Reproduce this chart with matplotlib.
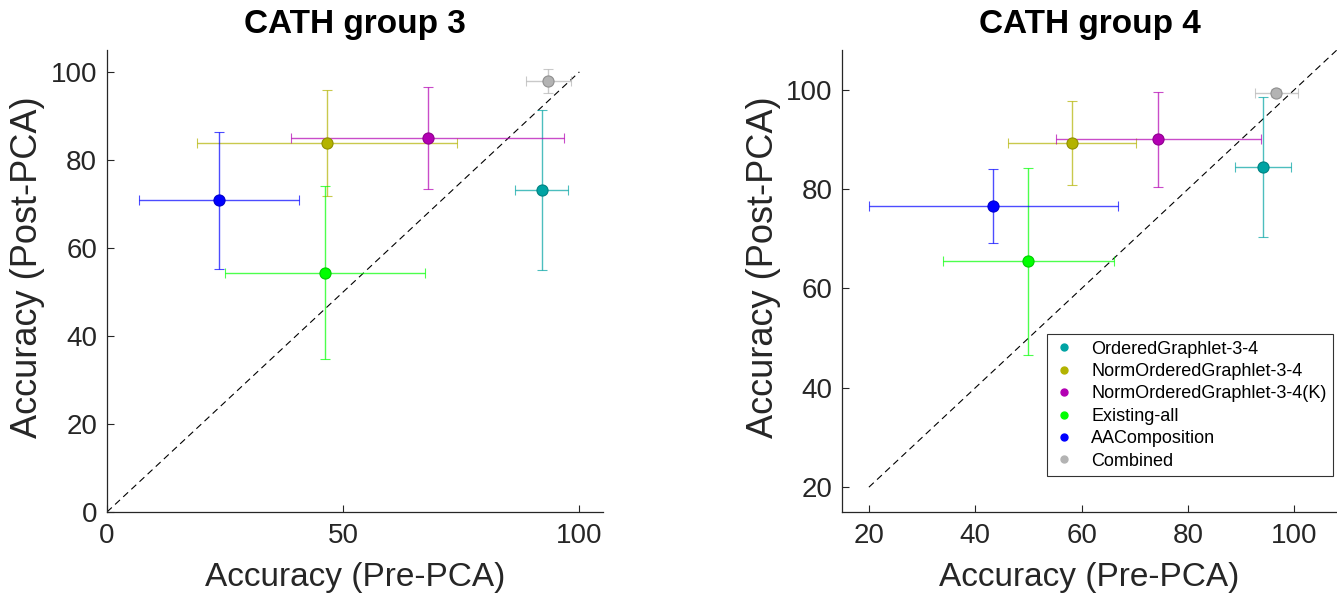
import matplotlib

matplotlib.use("Agg")
import matplotlib.pyplot as plt
from matplotlib.colors import to_rgba
from matplotlib.lines import Line2D

plt.rcParams["font.family"] = ["Liberation Sans", "DejaVu Sans"]

# --- data ------------------------------------------------------------------
methods = [
    "OrderedGraphlet-3-4",
    "NormOrderedGraphlet-3-4",
    "NormOrderedGraphlet-3-4(K)",
    "Existing-all",
    "AAComposition",
    "Combined",
]
colors = ["#00a3a3", "#b3b300", "#b300b3", "#00ff00", "#0000ff", "#b3b3b3"]

# CATH group 3
g3_pre = [92.0, 46.6, 67.9, 46.2, 23.7, 93.4]
g3_pre_err = [5.6, 27.6, 28.9, 21.2, 17.0, 4.8]
g3_post = [73.2, 83.9, 85.0, 54.4, 70.8, 97.9]
g3_post_err = [18.2, 12.1, 11.5, 19.7, 15.5, 2.7]

# CATH group 4
g4_pre = [94.1, 58.2, 74.4, 50.0, 43.4, 96.6]
g4_pre_err = [5.2, 12.1, 19.3, 16.0, 23.4, 4.1]
g4_post = [84.4, 89.3, 90.0, 65.5, 76.6, 99.4]
g4_post_err = [14.1, 8.4, 9.5, 18.8, 7.4, 0.8]

AX_COLOR = "#262626"


def style_axes(ax, lim, ticks, title):
    ax.set_xlim(*lim)
    ax.set_ylim(*lim)
    ax.set_xticks(ticks)
    ax.set_yticks(ticks)
    for side in ("top", "right"):
        ax.spines[side].set_visible(False)
    for side in ("left", "bottom"):
        ax.spines[side].set_color(AX_COLOR)
        ax.spines[side].set_linewidth(0.9)
    ax.tick_params(direction="in", length=5, width=0.8, colors=AX_COLOR, labelsize=20)
    ax.tick_params(axis="x", pad=8)
    ax.tick_params(axis="y", pad=7)
    ax.set_xlabel("Accuracy (Pre-PCA)", fontsize=24, color=AX_COLOR, labelpad=9)
    ax.set_ylabel("Accuracy (Post-PCA)", fontsize=26, color=AX_COLOR, labelpad=4)
    ax.yaxis.label.set_y(0.53)
    ax.set_title(title, fontsize=24, fontweight="bold", color="black", pad=12)


def draw_group(ax, pre, pre_err, post, post_err, diag):
    ax.plot(diag, diag, linestyle=(0, (6, 4)), color="black", linewidth=0.8, zorder=1)
    for i in range(len(methods)):
        c = colors[i]
        edge = tuple(v * 0.8 for v in to_rgba(c)[:3])
        ax.errorbar(
            pre[i], post[i], xerr=pre_err[i], yerr=post_err[i],
            fmt="o", markersize=8, color=c, markerfacecolor=c,
            markeredgecolor=edge, markeredgewidth=0.8,
            ecolor=to_rgba(c, 0.7), elinewidth=1.0,
            capsize=3.5, capthick=1.0, zorder=3,
        )


fig = plt.figure(figsize=(13.37, 5.94), dpi=100)
ax1 = fig.add_axes([0.080, 0.138, 0.371, 0.778])
ax2 = fig.add_axes([0.630, 0.138, 0.370, 0.778])

draw_group(ax1, g3_pre, g3_pre_err, g3_post, g3_post_err, [0, 100])
style_axes(ax1, (0, 105), [0, 50, 100], "CATH group 3")
ax1.set_yticks([0, 20, 40, 60, 80, 100])

draw_group(ax2, g4_pre, g4_pre_err, g4_post, g4_post_err, [20, 108])
style_axes(ax2, (15, 108), [20, 40, 60, 80, 100], "CATH group 4")

handles = [
    Line2D([], [], linestyle="none", marker="o", markersize=5,
           markerfacecolor=c, markeredgecolor=c)
    for c in colors
]
leg = ax2.legend(
    handles, methods, loc="lower right", bbox_to_anchor=(0.992, 0.078),
    fontsize=13, frameon=True, fancybox=False, edgecolor="black",
    handlelength=1.2, handletextpad=0.9, labelspacing=0.3, borderpad=0.35,
    borderaxespad=0,
)
leg.get_frame().set_linewidth(0.8)

fig.savefig("out.png", dpi=100, facecolor="white")
